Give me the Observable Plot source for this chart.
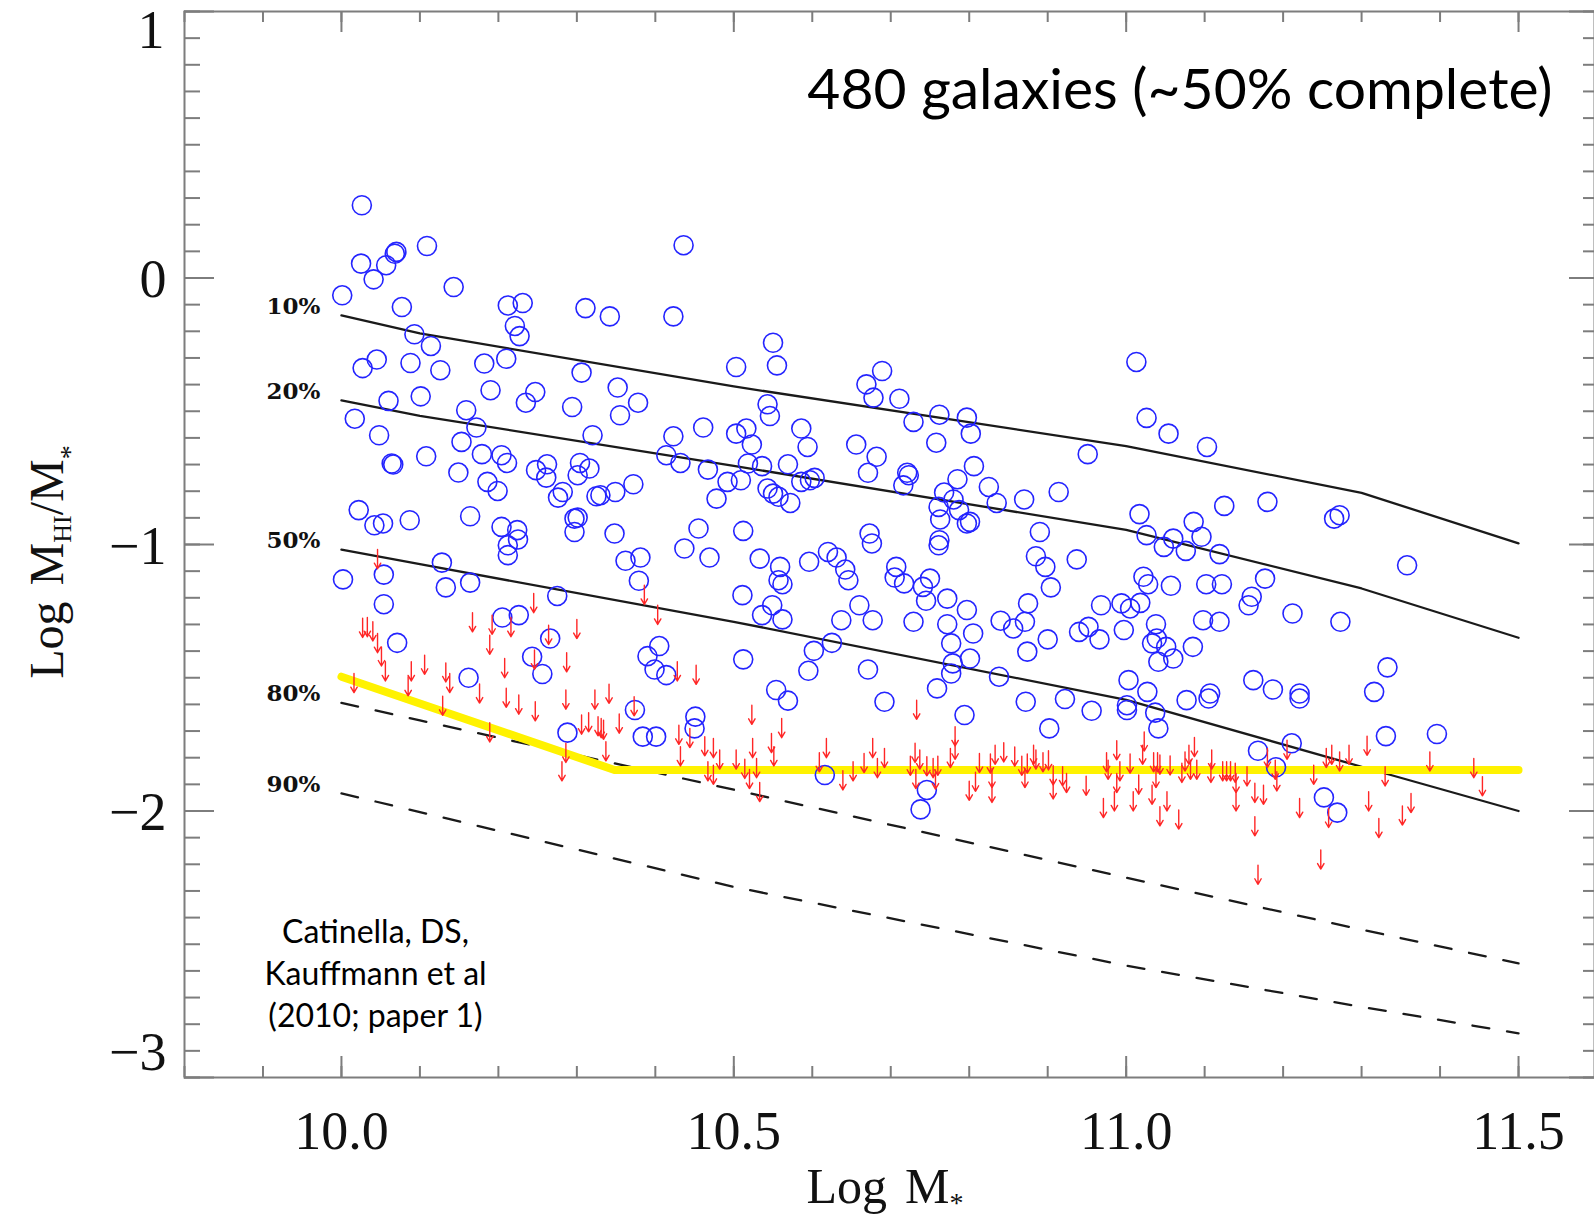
<!DOCTYPE html>
<html>
<head>
<meta charset="utf-8">
<script src="https://cdn.jsdelivr.net/npm/d3@7"></script>
<script src="https://cdn.jsdelivr.net/npm/@observablehq/plot@0.6"></script>
<style>
  html, body { margin: 0; padding: 0; background: #ffffff; }
  #chart { position: absolute; left: 0; top: 0; }
</style>
</head>
<body>
<div id="chart"></div>
<script>
// ---------------- DATA ----------------
// HI detections (open circles): log M* and log MHI/M*
const detX = [
10.026,10.109,10.025,10.057,10.068,10.070,10.041,10.001,10.143,10.077,10.212,10.231,10.221,10.227,10.311,10.342,10.436,10.423,
10.093,10.114,10.027,10.045,10.088,10.126,10.182,10.210,10.306,10.352,10.378,10.355,10.060,10.101,10.190,10.247,10.235,10.294,
10.017,10.159,10.172,10.048,10.153,10.320,10.423,10.461,10.414,10.432,10.467,10.478,10.064,10.066,10.108,10.179,10.204,10.211,
10.149,10.186,10.199,10.248,10.262,10.261,10.304,10.316,10.301,10.282,10.276,10.325,10.330,10.349,10.372,10.022,10.042,10.053,
10.087,10.164,10.204,10.224,10.297,10.301,10.297,10.348,10.455,
10.550,10.503,10.555,10.689,10.669,10.678,10.711,10.543,10.546,10.729,10.762,10.797,10.802,10.503,10.516,10.523,10.586,10.594,
10.656,10.758,10.951,10.682,10.518,10.536,10.569,10.671,10.721,10.723,10.716,10.806,10.785,10.825,10.835,10.870,10.914,10.768,
10.780,10.761,10.787,10.763,10.797,10.801,10.492,10.509,10.586,10.597,10.603,10.543,10.550,10.557,10.572,10.512,10.673,10.762,10.890,
11.013,11.026,11.054,11.103,11.017,11.086,11.125,11.180,11.265,11.272,11.026,11.060,11.096,
10.212,10.212,10.225,10.437,10.469,10.362,10.381,10.379,10.128,10.002,10.054,10.054,10.133,10.164,10.275,10.205,10.226,10.266,
10.071,10.243,10.256,10.162,10.405,10.390,10.399,10.414,10.374,10.288,10.384,10.401,10.451,10.450,
10.676,10.761,10.533,10.559,10.557,10.562,10.596,10.620,10.631,10.642,10.646,10.707,10.705,10.717,10.750,10.741,10.745,10.772,
10.797,10.885,10.897,10.904,10.937,10.511,10.549,10.536,10.562,10.660,10.637,10.677,10.729,10.772,10.805,10.777,10.625,10.602,
10.595,10.671,10.801,10.779,10.777,10.759,10.838,10.840,10.856,10.871,10.875,10.900,10.874,10.968,10.940,10.952,10.966,10.512,
10.554,10.569,10.692,10.794,10.872,10.922,10.956,10.902,10.616,10.746,10.738,
11.358,11.048,11.076,11.119,11.022,11.028,11.057,11.102,11.122,11.177,11.160,11.156,11.212,11.273,10.994,11.005,11.018,10.997,
11.038,11.039,11.051,11.033,11.041,11.060,11.085,11.098,11.119,11.003,11.027,11.001,11.001,11.037,11.041,11.077,11.105,11.107,
11.162,11.187,11.221,11.221,11.316,11.333,11.331,11.396,11.211,11.168,11.191,11.252,11.269
];
const detY = [
0.273,0.120,0.054,0.048,0.091,0.098,-0.005,-0.065,-0.034,-0.109,-0.103,-0.094,-0.180,-0.218,-0.113,-0.144,0.123,-0.144,
-0.211,-0.255,-0.338,-0.306,-0.319,-0.346,-0.321,-0.303,-0.355,-0.411,-0.468,-0.515,-0.461,-0.444,-0.421,-0.428,-0.468,-0.484,
-0.528,-0.496,-0.561,-0.590,-0.615,-0.590,-0.594,-0.561,-0.665,-0.694,-0.719,-0.828,-0.696,-0.700,-0.669,-0.661,-0.665,-0.694,
-0.730,-0.765,-0.799,-0.721,-0.699,-0.749,-0.694,-0.715,-0.740,-0.803,-0.824,-0.819,-0.815,-0.803,-0.774,-0.871,-0.928,-0.921,
-0.909,-0.894,-0.934,-0.946,-0.903,-0.899,-0.953,-0.959,-0.940,
-0.243,-0.334,-0.328,-0.349,-0.399,-0.449,-0.453,-0.474,-0.518,-0.540,-0.513,-0.524,-0.584,-0.584,-0.565,-0.625,-0.565,-0.634,
-0.625,-0.618,-0.661,-0.671,-0.696,-0.706,-0.699,-0.731,-0.731,-0.740,-0.778,-0.706,-0.755,-0.784,-0.844,-0.831,-0.803,-0.805,
-0.831,-0.859,-0.871,-0.906,-0.921,-0.915,-0.765,-0.759,-0.765,-0.759,-0.750,-0.790,-0.809,-0.821,-0.844,-0.949,-0.959,-0.984,-0.953,
-0.315,-0.525,-0.584,-0.634,-0.886,-0.915,-0.855,-0.840,-0.903,-0.890,-0.965,-0.978,-0.971,
-1.003,-1.040,-0.981,-1.015,-1.049,-1.061,-1.049,-1.136,-1.068,-1.131,-1.113,-1.224,-1.161,-1.143,-1.193,-1.274,-1.265,-1.353,
-1.369,-1.421,-1.486,-1.500,-1.381,-1.419,-1.469,-1.490,-1.621,-1.706,-1.721,-1.721,-1.646,-1.690,
-0.996,-1.003,-1.053,-1.084,-1.134,-1.149,-1.065,-1.028,-1.049,-1.094,-1.134,-1.084,-1.124,-1.146,-1.128,-1.159,-1.211,-1.203,
-1.246,-1.044,-1.084,-1.161,-1.056,-1.190,-1.228,-1.265,-1.281,-1.228,-1.284,-1.284,-1.290,-1.299,-1.334,-1.371,-1.369,-1.399,
-1.474,-1.469,-1.428,-1.446,-1.484,-1.540,-1.496,-1.286,-1.315,-1.290,-1.221,-1.356,-1.402,-1.228,-1.328,-1.309,-1.356,-1.431,
-1.546,-1.586,-1.590,-1.640,-1.590,-1.580,-1.624,-1.690,-1.865,-1.921,-1.994,
-1.078,-1.009,-1.024,-1.036,-1.121,-1.149,-1.155,-1.149,-1.149,-1.128,-1.196,-1.228,-1.259,-1.290,-1.221,-1.240,-1.219,-1.321,
-1.299,-1.353,-1.384,-1.371,-1.440,-1.428,-1.384,-1.284,-1.290,-1.509,-1.553,-1.603,-1.621,-1.631,-1.690,-1.584,-1.578,-1.559,
-1.509,-1.544,-1.559,-1.578,-1.553,-1.461,-1.719,-1.711,-1.746,-1.774,-1.836,-1.949,-2.006
];

// HI non-detections (upper limits, red arrows): log M* and upper limit of log MHI/M*
const limX = [
10.046,10.027,10.033,10.040,10.046,10.051,10.056,10.016,10.089,10.085,10.106,10.133,10.138,10.129,10.167,10.192,10.189,10.216,
10.245,10.264,10.300,10.208,10.246,10.287,10.176,10.210,10.226,10.247,10.286,10.189,10.286,10.281,10.306,10.315,10.323,10.341,
10.327,10.331,10.334,10.354,10.337,10.373,10.386,10.403,10.428,10.452,10.430,10.444,10.432,10.463,10.474,10.467,10.474,
10.523,10.561,10.733,10.782,10.782,10.524,10.548,10.551,10.503,10.482,10.514,10.529,10.520,10.533,10.618,10.609,10.639,10.652,
10.666,10.677,10.683,10.692,10.731,10.725,10.732,10.737,10.746,10.754,10.760,10.757,10.776,10.813,10.808,10.800,10.829,10.829,
10.833,10.844,10.827,10.858,10.867,10.871,10.874,10.882,10.885,10.894,10.901,10.907,10.907,10.919,10.924,10.949,10.975,10.977,
10.971,10.985,10.988,10.988,
11.023,11.021,11.005,10.992,11.016,11.009,11.035,11.040,11.043,11.038,11.033,11.043,11.052,11.056,11.067,11.075,11.080,11.087,
11.071,11.082,11.090,11.109,11.108,11.123,11.128,11.133,11.139,11.140,11.140,11.154,11.164,11.175,11.164,11.180,11.190,11.192,
11.205,11.239,11.221,11.248,11.168,11.255,11.262,11.258,11.272,11.284,11.307,11.330,11.309,11.322,11.352,11.363,11.387,11.443,11.454
];
const limY = [
-1.019,-1.277,-1.274,-1.290,-1.334,-1.384,-1.440,-1.484,-1.440,-1.496,-1.415,-1.444,-1.484,-1.569,-1.256,-1.265,-1.340,-1.274,
-1.184,-1.303,-1.281,-1.428,-1.396,-1.406,-1.523,-1.539,-1.565,-1.590,-1.546,-1.669,-1.746,-1.815,-1.640,-1.631,-1.546,-1.524,
-1.646,-1.653,-1.659,-1.636,-1.740,-1.571,-1.153,-1.228,-1.440,-1.453,-1.678,-1.690,-1.759,-1.721,-1.728,-1.815,-1.828,
-1.603,-1.653,-1.584,-1.684,-1.734,-1.728,-1.709,-1.759,-1.771,-1.771,-1.806,-1.803,-1.844,-1.893,-1.728,-1.781,-1.849,-1.815,
-1.784,-1.728,-1.803,-1.765,-1.746,-1.794,-1.844,-1.771,-1.796,-1.803,-1.794,-1.846,-1.765,-1.784,-1.854,-1.888,-1.840,-1.896,
-1.753,-1.744,-1.786,-1.760,-1.794,-1.840,-1.786,-1.753,-1.771,-1.781,-1.774,-1.830,-1.883,-1.834,-1.859,-1.869,-1.781,-1.809,
-1.953,-1.928,-1.736,-1.859,
-1.703,-1.753,-1.786,-1.815,-1.865,-1.928,-1.781,-1.781,-1.790,-1.840,-1.903,-1.984,-1.928,-1.793,-1.996,-1.778,-1.753,-1.724,
-1.821,-1.809,-1.809,-1.771,-1.821,-1.815,-1.815,-1.815,-1.821,-1.859,-1.928,-1.834,-1.896,-1.903,-2.021,-1.765,-1.809,-1.853,
-1.734,-1.828,-1.953,-2.146,-2.203,-1.765,-1.753,-1.990,-1.778,-1.753,-1.719,-1.834,-1.928,-2.028,-1.981,-1.934,-1.778,-1.803,-1.871
];

// Gas-fraction lines (10%, 20%, 50% solid; 80%, 90% dashed)
const curveX  = [10.0, 10.1, 10.5, 11.0, 11.3, 11.5];
const curve10 = [-0.140, -0.208, -0.407, -0.631, -0.806, -0.996];
const curve20 = [-0.459, -0.517, -0.705, -0.945, -1.165, -1.350];
const curve50 = [-1.019, -1.074, -1.290, -1.583, -1.834, -2.000];
const curve80 = [-1.594, -1.660, -1.920, -2.250, -2.445, -2.572];
const curve90 = [-1.934, -2.004, -2.285, -2.580, -2.735, -2.834];
const curveNames = ["10%", "20%", "50%", "80%", "90%"];
const curveDashed = [false, false, false, true, true];

// Survey detection limit (yellow)
const limitX = [10.0, 10.348, 11.5];
const limitY = [-1.496, -1.846, -1.846];

// Axis ticks and labels
const xTickValues = [10.0, 10.5, 11.0, 11.5];
const xTickLabels = ["10.0", "10.5", "11.0", "11.5"];
const xMinorTicks = d3.range(98, 117).map(d => d / 10);
const yTickValues = [-3, -2, -1, 0, 1];
const yTickLabels = ["\u22123", "\u22122", "\u22121", "0", "1"];
const yMinorTicks = d3.range(-30, 11).map(d => d / 10);

const titleText = "480 galaxies (~50% complete)";
const captionLines = ["Catinella, DS,", "Kauffmann et al", "(2010; paper 1)"];

// ---------------- LAYOUT ----------------
const W = 1594, H = 1222;
const ML = 184, MR = 0, MT = 11, MB = 145;
const FW = W - ML - MR, FH = H - MT - MB;
const AXC = "#7d7d7d";
const serif = "'Liberation Serif', 'DejaVu Serif', serif";
const sans = "Lato, 'Open Sans', sans-serif";
const ARROW_LEN = 0.072;

const curves = [curve10, curve20, curve50, curve80, curve90];
const curveRows = [];
curves.forEach((ys, k) => curveX.forEach((x, j) => curveRows.push({name: curveNames[k], dashed: curveDashed[k], x, y: ys[j]})));
const limitRows = limitX.map((x, i) => ({x, y: limitY[i]}));
const detIdx = d3.range(detX.length);
const limIdx = d3.range(limX.length);
const yIdx = d3.range(yTickValues.length);

const plot = Plot.plot({
  width: W, height: H,
  marginLeft: ML, marginRight: MR, marginTop: MT, marginBottom: MB,
  x: {domain: [9.8, 11.6], range: [ML, 1596.5], axis: null},
  y: {domain: [-3, 1], range: [H - MB, MT], axis: null},
  style: {background: "#ffffff", overflow: "hidden"},
  marks: [
    // ticks (inward on all four sides)
    Plot.tickX(xMinorTicks, {x: d => d, insetTop: FH - 11, stroke: AXC, strokeWidth: 2}),
    Plot.tickX(xMinorTicks, {x: d => d, insetBottom: FH - 11, stroke: AXC, strokeWidth: 2}),
    Plot.tickX(xTickValues, {x: d => d, insetTop: FH - 21, stroke: AXC, strokeWidth: 2}),
    Plot.tickX(xTickValues, {x: d => d, insetBottom: FH - 21, stroke: AXC, strokeWidth: 2}),
    Plot.tickY(yMinorTicks, {y: d => d, insetRight: FW - 16, stroke: AXC, strokeWidth: 2}),
    Plot.tickY(yMinorTicks, {y: d => d, insetLeft: FW - 11, stroke: AXC, strokeWidth: 2}),
    Plot.tickY(yTickValues, {y: d => d, insetRight: FW - 30, stroke: AXC, strokeWidth: 2}),
    Plot.tickY(yTickValues, {y: d => d, insetLeft: FW - 25, stroke: AXC, strokeWidth: 2}),
    Plot.frame({stroke: AXC, strokeWidth: 2}),

    // tick labels
    Plot.text(xTickValues, {x: d => d, y: () => -3, text: (d, i) => xTickLabels[i], dy: 54,
      lineAnchor: "middle", fontFamily: serif, fontSize: 54, fill: "#111"}),
    Plot.text(yIdx.filter(i => yTickValues[i] > -3 && yTickValues[i] < 1), {x: () => 9.8, y: i => yTickValues[i], text: i => yTickLabels[i],
      dx: -18, dy: 2, textAnchor: "end", lineAnchor: "middle", fontFamily: serif, fontSize: 54, fill: "#111"}),
    Plot.text(yIdx.filter(i => yTickValues[i] === 1), {x: () => 9.8, y: i => yTickValues[i], text: i => yTickLabels[i],
      dx: -20, dy: 19, textAnchor: "end", lineAnchor: "middle", fontFamily: serif, fontSize: 54, fill: "#111"}),
    Plot.text(yIdx.filter(i => yTickValues[i] === -3), {x: () => 9.8, y: i => yTickValues[i], text: i => yTickLabels[i],
      dx: -18, dy: -25, textAnchor: "end", lineAnchor: "middle", fontFamily: serif, fontSize: 54, fill: "#111"}),

    // gas fraction lines
    Plot.line(curveRows.filter(d => !d.dashed), {x: "x", y: "y", z: "name", stroke: "#1a1a1a", strokeWidth: 2.3}),
    Plot.line(curveRows.filter(d => d.dashed), {x: "x", y: "y", z: "name", stroke: "#1a1a1a", strokeWidth: 2.3, strokeDasharray: "17,18"}),
    Plot.text(curveNames, {x: () => 10.0, y: (d, i) => curves[i][0], dx: -21, dy: -9, textAnchor: "end",
      lineAnchor: "middle", fontFamily: "'DejaVu Serif', serif", fontWeight: "bold", fontSize: 23, fill: "#111"}),

    // detection limit
    Plot.line(limitRows, {x: "x", y: "y", stroke: "#fff200", strokeWidth: 8, strokeLinejoin: "round"}),

    // detections and upper limits
    Plot.dot(detIdx, {x: i => detX[i], y: i => detY[i], r: 9.5, stroke: "#2424ff", strokeWidth: 1.6, fill: "none"}),
    Plot.arrow(limIdx, {x1: i => limX[i], x2: i => limX[i], y1: i => limY[i], y2: i => limY[i] - ARROW_LEN,
      stroke: "#ff2626", strokeWidth: 1.4, headLength: 7, headAngle: 60}),

    // annotations
    Plot.text([titleText], {frameAnchor: "top-right", dx: -42, dy: 97, textAnchor: "end", lineAnchor: "bottom",
      fontFamily: sans, fontSize: 57, fill: "#000"}),
    Plot.text([captionLines.join("\n")], {frameAnchor: "bottom-left", dx: 191, dy: -106, textAnchor: "middle",
      lineAnchor: "middle", lineHeight: 1.31, fontFamily: sans, fontSize: 32, fill: "#000"})
  ]
});

document.getElementById("chart").appendChild(plot);

// axis titles with subscripts (real SVG text)
const svg = d3.select(plot);
const xt = svg.append("text").attr("x", 885).attr("y", 1203).attr("text-anchor", "middle")
  .attr("font-family", serif).attr("font-size", 50).attr("fill", "#111");
xt.append("tspan").text("Log");
xt.append("tspan").attr("dx", 18).text("M");
xt.append("tspan").attr("dy", 9).attr("font-size", 28).text("*");

const yt = svg.append("text").attr("transform", "translate(63,562) rotate(-90)")
  .attr("text-anchor", "middle").attr("font-family", serif).attr("font-size", 48).attr("fill", "#111");
yt.append("tspan").text("Log");
yt.append("tspan").attr("dx", 16).text("M");
yt.append("tspan").attr("dy", 8).attr("font-size", 26).text("HI");
yt.append("tspan").attr("dy", -8).text("/M");
yt.append("tspan").attr("dy", 16).attr("font-size", 28).text("*");
</script>
</body>
</html>
